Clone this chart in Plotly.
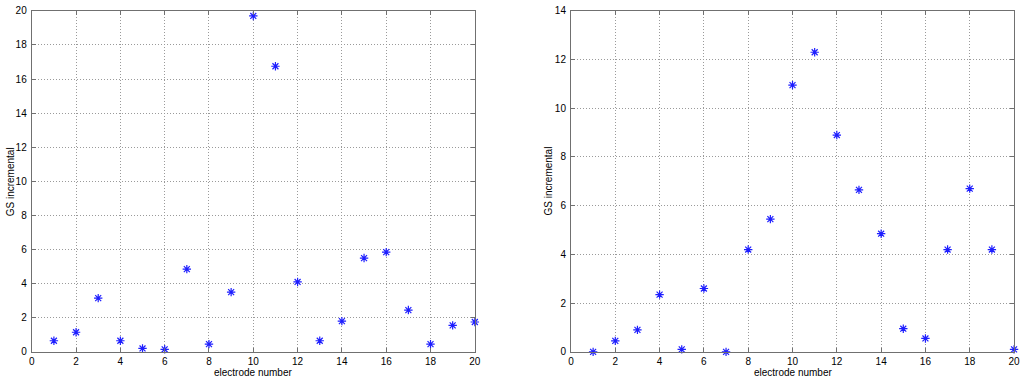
import plotly.graph_objects as go

electrodes = list(range(1, 21))
gs_left = [0.65, 1.15, 3.15, 0.65, 0.2, 0.15, 4.85, 0.45, 3.5, 19.7,
           16.75, 4.1, 0.65, 1.8, 5.5, 5.85, 2.45, 0.45, 1.55, 1.75]
gs_right = [0.0, 0.45, 0.9, 2.35, 0.1, 2.6, 0.0, 4.2, 5.45, 10.95,
            12.3, 8.9, 6.65, 4.85, 0.95, 0.55, 4.2, 6.7, 4.2, 0.1]
x_ticks = list(range(0, 21, 2))
y_ticks_left = list(range(0, 21, 2))
y_ticks_right = list(range(0, 15, 2))

W, H = 1026, 384
font = dict(family="Liberation Sans, Arial, sans-serif", size=10, color="black")

fig = go.Figure()
marker = dict(symbol="asterisk-open", size=7, color="rgb(30,30,255)",
              line=dict(color="rgb(30,30,255)", width=1.2))
fig.add_trace(go.Scatter(x=electrodes, y=gs_left, mode="markers", marker=marker,
                         xaxis="x", yaxis="y", showlegend=False, cliponaxis=False))
fig.add_trace(go.Scatter(x=electrodes, y=gs_right, mode="markers", marker=marker,
                         xaxis="x2", yaxis="y2", showlegend=False, cliponaxis=False))

def ax(domain, rng, ticks, anchor):
    return dict(domain=domain, range=rng, tickvals=ticks, ticktext=[str(t) for t in ticks],
                showgrid=True, gridcolor="#9a9a9a", griddash="1px,2px", gridwidth=1,
                zeroline=False, showline=True, linecolor="#707070", linewidth=1,
                mirror="allticks", ticks="inside", ticklen=4, tickcolor="#707070",
                anchor=anchor, tickfont=font, ticklabeloverflow="allow")

ydom = [(H - 357) / H, (H - 5) / H]
fig.update_layout(
    width=W, height=H, margin=dict(l=0, r=0, t=0, b=0),
    paper_bgcolor="white", plot_bgcolor="white", font=font,
    xaxis=ax([29 / W, 476 / W], [0, 20], x_ticks, "y"),
    yaxis=ax(ydom, [0, 20], y_ticks_left, "x"),
    xaxis2=ax([573 / W, 1020 / W], [0, 20], x_ticks, "y2"),
    yaxis2=ax(ydom, [0, 14], y_ticks_right, "x2"),
)
fig.update_yaxes(ticklabelstandoff=2)
fig.update_xaxes(ticklabelstandoff=0)

anns = [
    dict(x=252 / W, y=(H - 378) / H, text="electrode number"),
    dict(x=797 / W, y=(H - 378) / H, text="electrode number"),
    dict(x=7 / W, y=(H - 181) / H, text="GS incremental", textangle=-90),
    dict(x=550 / W, y=(H - 181) / H, text="GS incremental", textangle=-90),
]
for a in anns:
    fig.add_annotation(xref="paper", yref="paper", showarrow=False,
                       xanchor="center", yanchor="middle", font=font, **a)

fig.write_html("out.html", config={"displayModeBar": False},
               post_script="document.body.style.margin='0';document.body.style.overflow='hidden';")
